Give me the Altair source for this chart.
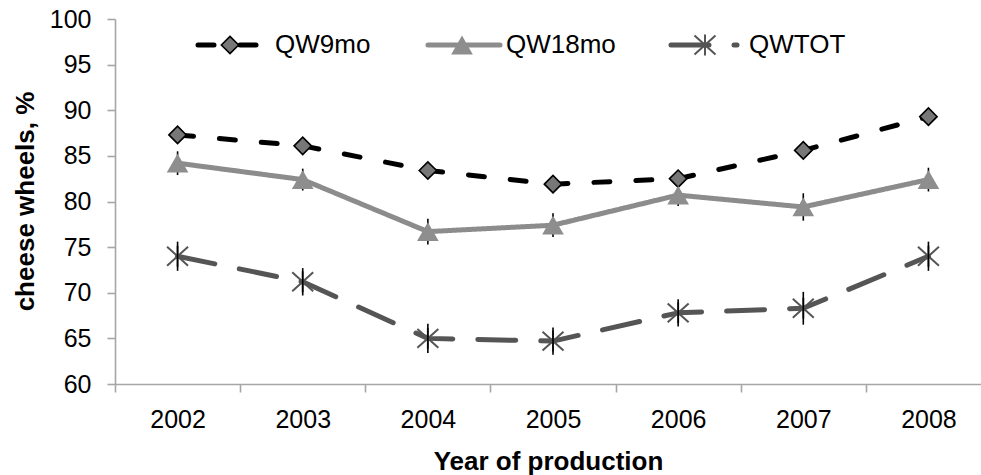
import altair as alt
import pandas as pd

# Quality of cheese wheels by year of production (%)
years = [2002, 2003, 2004, 2005, 2006, 2007, 2008]
series_names = ["QW9mo", "QW18mo", "QWTOT"]
qw9mo = [87.3, 86.1, 83.4, 81.9, 82.5, 85.6, 89.3]
qw18mo = [84.2, 82.4, 76.7, 77.4, 80.7, 79.4, 82.4]
qwtot = [74.0, 71.2, 65.0, 64.7, 67.8, 68.3, 74.0]
# half-widths of the error bars
err_qw18mo = [1.3, 1.2, 1.4, 1.3, 1.2, 1.5, 1.3]
err_qwtot = [1.6, 1.5, 1.6, 1.5, 1.5, 1.8, 1.6]
y_ticks = [60, 65, 70, 75, 80, 85, 90, 95, 100]

FONT = "Liberation Sans"

rows = []
for name, vals in zip(series_names, [qw9mo, qw18mo, qwtot]):
    for yr, v in zip(years, vals):
        rows.append({"year": yr, "series": name, "value": v})
df = pd.DataFrame(rows)

err_rows = []
for name, vals, errs in [("QW18mo", qw18mo, err_qw18mo), ("QWTOT", qwtot, err_qwtot)]:
    for yr, v, e in zip(years, vals, errs):
        err_rows.append({"year": yr, "series": name, "lo": v - e, "hi": v + e})
df_err = pd.DataFrame(err_rows)

# legend entries inside the plot: line start/end, marker and label x (pixels from plot left)
legend_df = pd.DataFrame({
    "series": series_names,
    "x0": [83, 313, 556],
    "x1": [147, 385, 622],
    "xm": [115, 347, 590],
    "xt": [160, 391, 634],
})

color_scale = alt.Scale(domain=series_names, range=["#000000", "#8c8c8c", "#555555"])
dash_scale = alt.Scale(domain=series_names, range=[[16, 26], [1, 0], [38, 25]])
x_scale = alt.Scale(domain=[2001.5, 2008.42], nice=False, zero=False)
y_scale = alt.Scale(domain=[60, 100], nice=False, zero=False)

x_axis = alt.Axis(
    values=[y - 0.5 for y in years],
    labelExpr="'' + (datum.value + 0.5)",
    labelOffset=62.6,
    labelOverlap=False,
    labelFlush=False,
    labelBound=False,
    labelBaseline="alphabetic",
    labelPadding=35,
    tickSize=8,
    grid=False,
    title="Year of production",
    titleBaseline="alphabetic",
    titleY=85,
)
y_axis = alt.Axis(
    values=y_ticks,
    tickSize=8,
    labelPadding=16,
    grid=False,
    title="cheese wheels, %",
    titleBaseline="alphabetic",
    titleX=-82,
    titleY=182,
)

X_ENC = alt.X("year:Q", scale=x_scale, axis=x_axis)
Y_ENC = alt.Y("value:Q", scale=y_scale, axis=y_axis)

base = alt.Chart(df)

lines = base.mark_line(strokeWidth=5, strokeCap="round", strokeJoin="round").encode(
    x=X_ENC,
    y=Y_ENC,
    color=alt.Color("series:N", scale=color_scale, legend=None),
    strokeDash=alt.StrokeDash("series:N", scale=dash_scale, legend=None),
    detail="series:N",
)

errbars = alt.Chart(df_err).mark_rule(color="black", strokeWidth=1.6).encode(
    x=X_ENC,
    y=alt.Y("lo:Q", scale=y_scale, axis=y_axis),
    y2="hi:Q",
)


def asterisk_layer(chart, x_enc, y_enc):
    return chart.mark_point(
        shape="M-1,-0.9L1,0.9M-1,0.9L1,-0.9M0,-1L0,1", size=440, filled=False,
        color="#555555", strokeWidth=2, opacity=1,
    ).encode(x=x_enc, y=y_enc).transform_filter(alt.datum.series == "QWTOT")


def solid_marker_layers(chart, x_enc, y_enc):
    diamonds = chart.mark_point(
        shape="diamond", size=300, filled=True, fill="#777777",
        stroke="black", strokeWidth=1.6, opacity=1,
    ).encode(x=x_enc, y=y_enc).transform_filter(alt.datum.series == "QW9mo")
    triangles = chart.mark_point(
        shape="triangle-up", size=470, filled=True, color="#8e8e8e", opacity=1,
    ).encode(x=x_enc, y=y_enc).transform_filter(alt.datum.series == "QW18mo")
    return [diamonds, triangles]


LEG_Y = 26
leg = alt.Chart(legend_df)
leg_x = alt.X("xm:Q", scale=None)
leg_lines = leg.mark_rule(strokeWidth=5, strokeCap="round").encode(
    x=alt.X("x0:Q", scale=None),
    x2="x1:Q",
    y=alt.value(LEG_Y),
    color=alt.Color("series:N", scale=color_scale, legend=None),
    strokeDash=alt.StrokeDash("series:N", scale=dash_scale, legend=None),
)
leg_text = leg.mark_text(
    align="left", baseline="middle", font=FONT, fontSize=26, color="black",
).encode(
    x=alt.X("xt:Q", scale=None),
    y=alt.value(LEG_Y),
    text="series:N",
)

chart = alt.layer(
    lines,
    asterisk_layer(base, X_ENC, Y_ENC),
    errbars,
    *solid_marker_layers(base, X_ENC, Y_ENC),
    leg_lines,
    asterisk_layer(leg, leg_x, alt.value(LEG_Y)),
    *solid_marker_layers(leg, leg_x, alt.value(LEG_Y)),
    leg_text,
).properties(
    width=866,
    height=365,
    autosize=alt.AutoSizeParams(type="none"),
    padding={"left": 115, "top": 19, "right": 0, "bottom": 91},
).configure_view(
    stroke=None
).configure_axis(
    domainColor="#a6a6a6",
    tickColor="#a6a6a6",
    domainWidth=1.6,
    tickWidth=1.6,
    labelFont=FONT,
    labelFontSize=25,
    labelColor="black",
    titleFont=FONT,
    titleFontSize=26,
    titleFontWeight="bold",
    titleColor="black",
)

chart.save("out.html", embed_options={"renderer": "svg", "actions": False})
